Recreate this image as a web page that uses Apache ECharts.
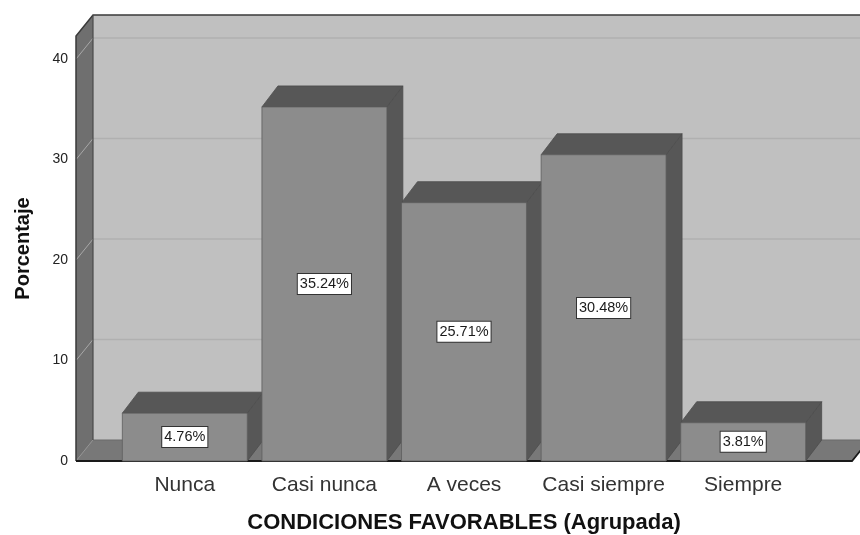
<!DOCTYPE html>
<html>
<head>
<meta charset="utf-8">
<script src="https://cdn.jsdelivr.net/npm/echarts@6/dist/echarts.min.js"></script>
<style>
  html, body { margin: 0; padding: 0; background: #ffffff; }
  #chart { width: 860px; height: 535px; }
</style>
</head>
<body>
<div id="chart"></div>
<script>
// Categories and percentage values
const categories = ['Nunca', 'Casi nunca', 'A veces', 'Casi siempre', 'Siempre'];
const percentages = [4.76, 35.24, 25.71, 30.48, 3.81];
const yTicks = [0, 10, 20, 30, 40];
const xTitle = 'CONDICIONES FAVORABLES (Agrupada)';
const yTitle = 'Porcentaje';

// Oblique depth of the 3D box and of the bars (pixels)
const WALL_DX = 17, WALL_DY = -21;
const BAR_DX = 16, BAR_DY = -21;
const SIDE_PAD = 39;       // floor extends this far beyond the category band
const BAR_RATIO = 0.895;   // bar width relative to category band

const FONT = '"Liberation Sans", Arial, sans-serif';

const chart = echarts.init(document.getElementById('chart'), null, { renderer: 'canvas' });

// Back wall, left wall, floor and gridlines
function renderFrame(params, api) {
  const cs = params.coordSys;
  const y0 = api.coord([0, 0])[1];
  const yTop = cs.y;
  const xL = cs.x - SIDE_PAD;
  const xR = cs.x + cs.width + SIDE_PAD;
  const children = [];
  // back wall
  children.push({
    type: 'rect',
    shape: { x: xL + WALL_DX, y: yTop + WALL_DY, width: xR - xL, height: y0 - yTop },
    style: { fill: '#c0c0c0', stroke: null }
  });
  // floor
  children.push({
    type: 'polygon',
    shape: { points: [[xL, y0], [xR, y0], [xR + WALL_DX, y0 + WALL_DY], [xL + WALL_DX, y0 + WALL_DY]] },
    style: { fill: '#787878', stroke: '#6a6a6a', lineWidth: 1 }
  });
  // left wall
  children.push({
    type: 'polygon',
    shape: { points: [[xL, y0], [xL + WALL_DX, y0 + WALL_DY], [xL + WALL_DX, yTop + WALL_DY], [xL, yTop]] },
    style: { fill: '#6f6f6f', stroke: null }
  });
  // gridlines: diagonal on the left wall, horizontal on the back wall
  yTicks.forEach(function (v) {
    if (v === 0) {
      children.push({
        type: 'line',
        shape: { x1: xL, y1: y0, x2: xL + WALL_DX, y2: y0 + WALL_DY },
        style: { stroke: '#969696', lineWidth: 1 }
      });
      return;
    }
    const y = api.coord([0, v])[1];
    children.push({
      type: 'line',
      shape: { x1: xL, y1: y, x2: xL + WALL_DX, y2: y + WALL_DY },
      style: { stroke: '#a8a8a8', lineWidth: 1 }
    });
    children.push({
      type: 'line',
      shape: { x1: xL + WALL_DX, y1: y + WALL_DY, x2: xR + WALL_DX, y2: y + WALL_DY },
      style: { stroke: '#b0b0b0', lineWidth: 1.5 }
    });
  });
  // outlines
  const edge = { stroke: '#3a3a3a', lineWidth: 1.5 };
  children.push({ type: 'polyline', shape: { points: [[xL, y0], [xL, yTop], [xL + WALL_DX, yTop + WALL_DY], [xR + WALL_DX, yTop + WALL_DY]] }, style: Object.assign({ fill: null }, edge) });
  children.push({ type: 'line', shape: { x1: xL + WALL_DX, y1: yTop + WALL_DY, x2: xL + WALL_DX, y2: y0 + WALL_DY }, style: { stroke: '#4a4a4a', lineWidth: 1.2 } });
  children.push({ type: 'polyline', shape: { points: [[xL, y0], [xR, y0], [xR + WALL_DX, y0 + WALL_DY]] }, style: { fill: null, stroke: '#1a1a1a', lineWidth: 1.8 } });
  return { type: 'group', children: children };
}

// 3D bars: front face, top face, right side face
function renderBar(params, api) {
  const idx = api.value(0);
  const val = api.value(1);
  const base = api.coord([idx, 0]);
  const top = api.coord([idx, val]);
  const w = api.size([1, 0])[0] * BAR_RATIO;
  const xl = base[0] - w / 2, xr = base[0] + w / 2;
  const yb = base[1], yt = top[1];
  const outline = '#4d4d4d';
  return {
    type: 'group',
    children: [
      {
        type: 'polygon',
        shape: { points: [[xr, yt], [xr + BAR_DX, yt + BAR_DY], [xr + BAR_DX, yb + BAR_DY], [xr, yb]] },
        style: { fill: '#575757', stroke: outline, lineWidth: 0.8 }
      },
      {
        type: 'polygon',
        shape: { points: [[xl, yt], [xr, yt], [xr + BAR_DX, yt + BAR_DY], [xl + BAR_DX, yt + BAR_DY]] },
        style: { fill: '#575757', stroke: outline, lineWidth: 0.8 }
      },
      {
        type: 'rect',
        shape: { x: xl, y: yt, width: w, height: yb - yt },
        style: { fill: '#8c8c8c', stroke: '#5e5e5e', lineWidth: 0.8 },
        textContent: {
          style: {
            text: val.toFixed(2) + '%',
            fontFamily: FONT,
            fontSize: 14.5,
            fill: '#1a1a1a',
            backgroundColor: '#ffffff',
            borderColor: '#333333',
            borderWidth: 1,
            padding: [3, 2, 2, 2]
          }
        },
        textConfig: { position: 'inside' }
      }
    ]
  };
}

chart.setOption({
  animation: false,
  backgroundColor: '#ffffff',
  grid: { left: 115, right: 47, top: 36, bottom: 74, containLabel: false, outerBoundsMode: 'none' },
  xAxis: {
    type: 'category',
    data: categories,
    axisLine: { show: false },
    axisTick: { show: false },
    splitLine: { show: false },
    axisLabel: { fontFamily: FONT, fontSize: 21, color: '#333333', margin: 14, interval: 0, hideOverlap: false },
    name: xTitle,
    nameLocation: 'middle',
    nameGap: 51,
    nameTextStyle: { fontFamily: FONT, fontSize: 22, fontWeight: 'bold', color: '#111111' }
  },
  yAxis: {
    type: 'value',
    min: 0,
    max: 42.3,
    interval: 10,
    offset: SIDE_PAD,
    axisLine: { show: false },
    axisTick: { show: false },
    splitLine: { show: false },
    axisLabel: {
      fontFamily: FONT, fontSize: 14, color: '#222222', margin: 8,
      formatter: function (v) { return yTicks.indexOf(v) >= 0 ? String(v) : ''; }
    },
    name: yTitle,
    nameLocation: 'middle',
    nameRotate: 90,
    nameGap: 43,
    nameTextStyle: { fontFamily: FONT, fontSize: 20, fontWeight: 'bold', color: '#111111' }
  },
  series: [
    {
      type: 'custom',
      name: 'frame',
      renderItem: renderFrame,
      data: [[0, 0]],
      z: 1,
      silent: true
    },
    {
      type: 'custom',
      name: yTitle,
      renderItem: renderBar,
      data: percentages.map(function (v, i) { return [i, v]; }),
      encode: { x: 0, y: 1 },
      z: 2
    }
  ]
});
</script>
</body>
</html>
